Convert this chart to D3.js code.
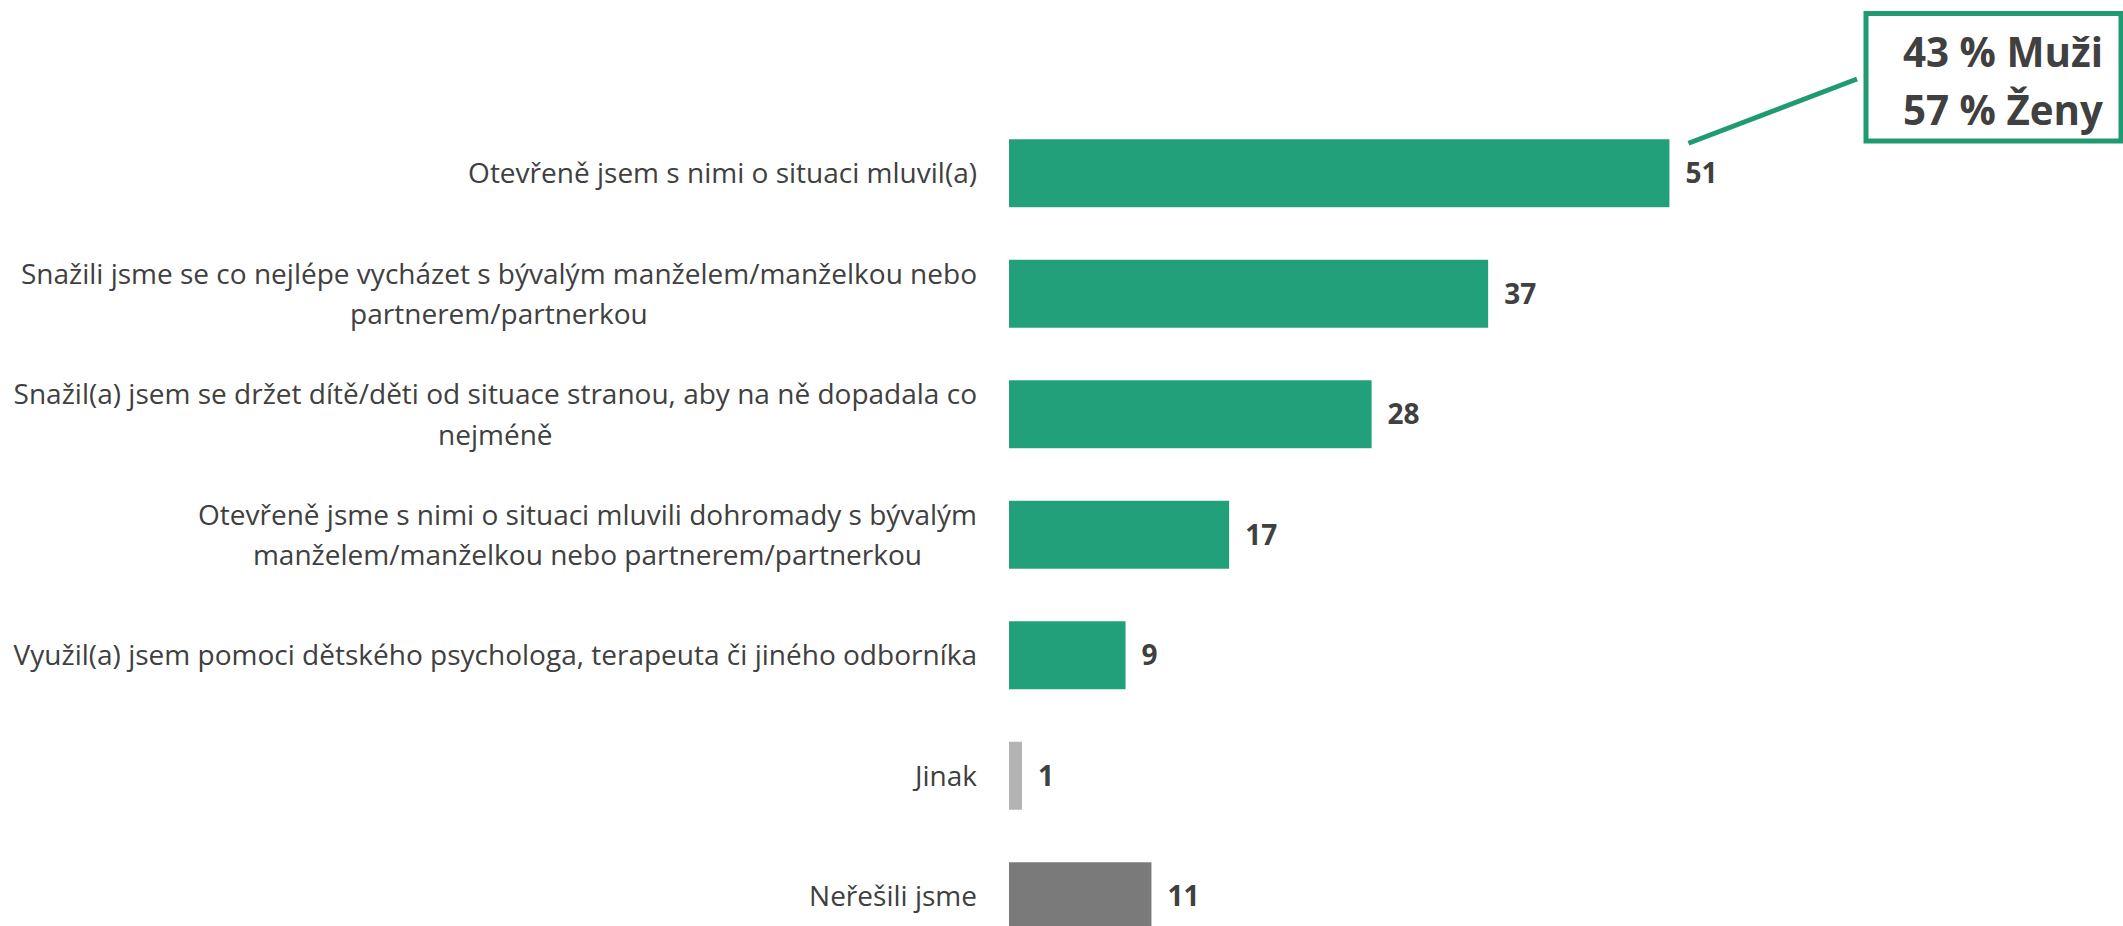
<!DOCTYPE html>
<html>
<head>
<meta charset="utf-8">
<script src="https://cdn.jsdelivr.net/npm/d3@7"></script>
<style>
  html, body { margin: 0; padding: 0; background: #fff; overflow: hidden; }
  svg { display: block; }
</style>
</head>
<body>
<svg id="chart" width="2123" height="926"></svg>
<script>
// ---- DATA ----
const categories = [
  ["Otevřeně jsem s nimi o situaci mluvil(a)"],
  ["Snažili jsme se co nejlépe vycházet s bývalým manželem/manželkou nebo", "partnerem/partnerkou"],
  ["Snažil(a) jsem se držet dítě/děti od situace stranou, aby na ně dopadala co", "nejméně"],
  ["Otevřeně jsme s nimi o situaci mluvili dohromady s bývalým", "manželem/manželkou nebo partnerem/partnerkou"],
  ["Využil(a) jsem pomoci dětského psychologa, terapeuta či jiného odborníka"],
  ["Jinak"],
  ["Neřešili jsme"]
];
const values = [51, 37, 28, 17, 9, 1, 11];
const groups = ["main", "main", "main", "main", "main", "other", "none"];
const annotationLines = ["43 % Muži", "57 % Ženy"];

// ---- STYLE / LAYOUT ----
const W = 2123, H = 926;
const green = "#21a07a";
const boxGreen = "#1f9a72";
const textColor = "#404040";
const FONT = "'Open Sans', 'Noto Sans', sans-serif";
const colorScale = d3.scaleOrdinal().domain(["main", "other", "none"]).range([green, "#b3b3b3", "#7a7a7a"]);

const svg = d3.select("#chart");
const ids = d3.range(categories.length);

const x = d3.scaleLinear().domain([0, 100]).range([1009, 1009 + 1295]);
const y = d3.scaleBand().domain(ids).range([113, 113 + 7 * 120.5]).paddingInner(0.436).paddingOuter(0.218);

// measure helper
function measure(text, size, weight) {
  const t = svg.append("text").attr("font-family", FONT).attr("font-size", size)
    .attr("font-weight", weight || "normal").text(text);
  const w = t.node().getComputedTextLength();
  t.remove();
  return w;
}
// fit label font so the longest line spans its width in the reference
const labelSize = 100 * 964 / measure(categories[2][0], 100);
const valueSize = labelSize * 1.0;
const annoSize = 100 * 200 / measure(annotationLines[0], 100, "bold");

const labelRight = 977;
const lineGap = 40.6;

// bars
svg.append("g").selectAll("rect").data(ids).join("rect")
  .attr("x", x(0))
  .attr("y", i => y(i))
  .attr("width", i => x(values[i]) - x(0))
  .attr("height", y.bandwidth())
  .attr("fill", i => colorScale(groups[i]));

// value labels
svg.append("g").selectAll("text").data(ids).join("text")
  .attr("x", i => x(values[i]) + 16)
  .attr("y", i => y(i) + y.bandwidth() / 2)
  .attr("dy", "0.36em")
  .attr("font-family", FONT)
  .attr("font-size", valueSize)
  .attr("font-weight", "bold")
  .attr("fill", textColor)
  .text(i => values[i]);

// category labels (multi-line centered, block right-aligned)
const lg = svg.append("g");
ids.forEach(i => {
  const lines = categories[i];
  const maxW = d3.max(lines, l => measure(l, labelSize));
  const cx = labelRight - maxW / 2;
  const cy = y(i) + y.bandwidth() / 2;
  const t = lg.append("text")
    .attr("font-family", FONT)
    .attr("font-size", labelSize)
    .attr("fill", textColor)
    .attr("text-anchor", "middle");
  lines.forEach((l, k) => {
    t.append("tspan")
      .attr("x", cx)
      .attr("y", cy + (k - (lines.length - 1) / 2) * lineGap)
      .attr("dy", "0.36em")
      .text(l);
  });
});

// annotation: connector + box
svg.append("line")
  .attr("x1", x(values[0]) + 19).attr("y1", y(0) + 4)
  .attr("x2", 1857).attr("y2", 79)
  .attr("stroke", boxGreen).attr("stroke-width", 5);
svg.append("rect")
  .attr("x", 1866).attr("y", 13.5).attr("width", 255).attr("height", 127.5)
  .attr("fill", "#fff").attr("stroke", boxGreen).attr("stroke-width", 5);
svg.append("g").selectAll("text").data(annotationLines).join("text")
  .attr("x", 2003)
  .attr("y", (d, k) => 67 + k * 58)
  .attr("text-anchor", "middle")
  .attr("font-family", FONT)
  .attr("font-size", annoSize)
  .attr("font-weight", "bold")
  .attr("fill", textColor)
  .text(d => d);
</script>
</body>
</html>
